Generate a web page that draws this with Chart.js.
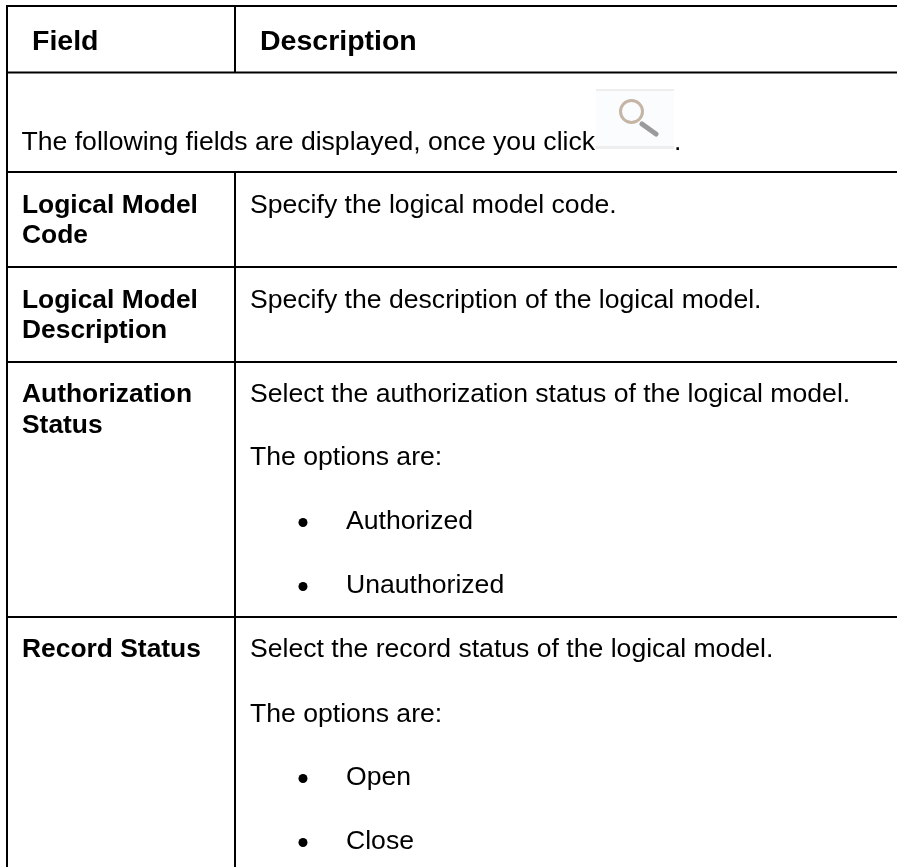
<!DOCTYPE html>
<html><head><meta charset="utf-8">
<style>html,body{margin:0;padding:0;background:#fff;overflow:hidden}#w{width:897px;height:867px;position:relative}</style>
<script src="https://cdn.jsdelivr.net/npm/chart.js@4"></script></head>
<body><div id="w"><canvas id="c"></canvas></div>
<script>
const headers = ["Field", "Description"];
const introText = "The following fields are displayed, once you click";
const fieldLabels = [["Logical Model","Code"],["Logical Model","Description"],["Authorization","Status"],["Record Status"]];
const descriptions = [["Specify the logical model code."],["Specify the description of the logical model."],["Select the authorization status of the logical model.","The options are:"],["Select the record status of the logical model.","The options are:"]];
const bullets = [[],[],["Authorized","Unauthorized"],["Open","Close"]];

/* layout, in the axis units of the page-sized scales */
const hRules=[6,72.5,172,267,362,617];
const leftEdge=7, divider=235, pageRight=897, pageBottom=867;
const labelBase=[[213,243],[308,338],[402,433],[657]];
const descBase=[[213],[308],[402,465],[657,722]];
const bulletBase=[[],[],[529,593],[785,849]];
const FONT='"Liberation Sans", Arial, sans-serif';

const tablePlugin={id:'table',afterDraw(ch){
  const {ctx,scales:{x,y}}=ch;
  const X=v=>x.getPixelForValue(v),Y=v=>y.getPixelForValue(v);
  const txt=(s,px,py)=>ctx.fillText(s,X(px),Y(py));
  ctx.save();
  ctx.strokeStyle='#000';ctx.lineWidth=2;
  const seg=(a,b,c,d)=>{ctx.beginPath();ctx.moveTo(X(a),Y(b));ctx.lineTo(X(c),Y(d));ctx.stroke();};
  hRules.forEach(v=>seg(leftEdge-1,v,pageRight,v));
  seg(leftEdge,5,leftEdge,pageBottom);
  seg(divider,6,divider,hRules[1]);
  seg(divider,hRules[2],divider,pageBottom);

  ctx.fillStyle='#000';ctx.textBaseline='alphabetic';
  ctx.font='bold 28.5px '+FONT;
  txt(headers[0],32,50);txt(headers[1],260,50);
  ctx.font='26.6px '+FONT;
  txt(introText,21.5,150);txt('.',674,150);

  /* search icon */
  ctx.fillStyle='#fbfcfe';ctx.fillRect(X(596),Y(89),78,60);
  ctx.fillStyle='#eeeeee';ctx.fillRect(X(596),Y(89),78,2);ctx.fillRect(X(596),Y(146),78,3);
  ctx.lineCap='round';
  ctx.strokeStyle='#9a9a9a';ctx.lineWidth=5;seg(642,124,656,134);
  ctx.strokeStyle='#c4b5a4';ctx.lineWidth=3;ctx.beginPath();ctx.arc(X(631.5),Y(111.5),11,0,Math.PI*2);ctx.stroke();
  ctx.lineCap='butt';

  ctx.fillStyle='#000';
  fieldLabels.forEach((lines,r)=>{
    ctx.font='bold 26.4px '+FONT;
    lines.forEach((s,i)=>txt(s,22,labelBase[r][i]));
    ctx.font='26.6px '+FONT;
    descriptions[r].forEach((s,i)=>txt(s,250,descBase[r][i]));
    bullets[r].forEach((s,i)=>{
      txt(s,346,bulletBase[r][i]);
      ctx.beginPath();ctx.arc(X(303),Y(bulletBase[r][i]-6.5),4.5,0,Math.PI*2);ctx.fill();
    });
  });
  ctx.restore();
}};
new Chart(document.getElementById('c'),{type:'scatter',data:{datasets:[{data:[]}]},plugins:[tablePlugin],
options:{responsive:true,maintainAspectRatio:false,animation:false,layout:{padding:0},plugins:{legend:{display:false},tooltip:{enabled:false}},
scales:{x:{type:'linear',display:false,min:0,max:pageRight},y:{type:'linear',display:false,min:0,max:pageBottom,reverse:true}}}});
</script></body></html>
